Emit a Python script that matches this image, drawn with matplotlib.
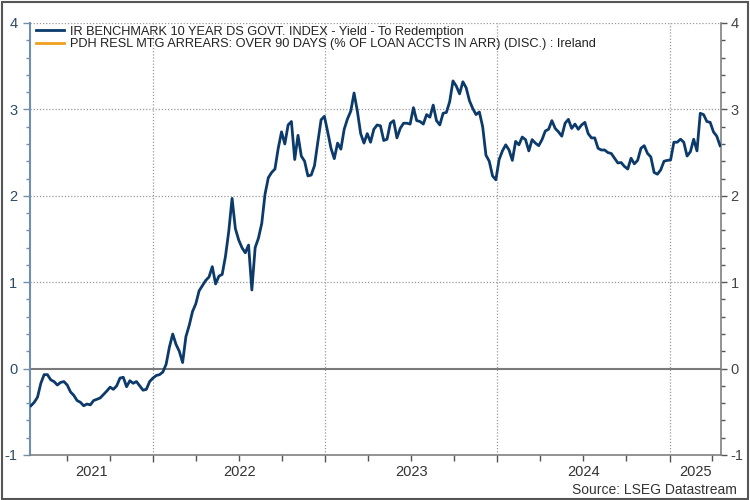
import matplotlib
matplotlib.use("Agg")
import matplotlib.pyplot as plt
import matplotlib.dates as mdates
from matplotlib.ticker import MultipleLocator, NullFormatter
from matplotlib.patches import Rectangle
import pandas as pd

plt.rcParams['font.family'] = ['Liberation Sans', 'DejaVu Sans']
plt.rcParams['axes.unicode_minus'] = False

# ---- data ----
start_date = "2021-04-16"
yield_values = [
    -0.43, -0.39, -0.33, -0.17, -0.07, -0.07, -0.13, -0.15, -0.19, -0.16,
    -0.15, -0.19, -0.27, -0.31, -0.37, -0.39, -0.43, -0.41, -0.42, -0.37,
    -0.355, -0.34, -0.30, -0.26, -0.215, -0.24, -0.20, -0.11, -0.10, -0.21,
    -0.14, -0.17, -0.15, -0.20, -0.25, -0.24, -0.15, -0.11, -0.08, -0.07,
    -0.04, 0.05, 0.25, 0.40, 0.28, 0.20, 0.07, 0.37, 0.50, 0.66,
    0.75, 0.90, 0.96, 1.02, 1.06, 1.18, 0.98, 1.07, 1.09, 1.30,
    1.59, 1.97, 1.62, 1.49, 1.40, 1.34, 1.43, 0.91, 1.40, 1.51,
    1.68, 2.02, 2.21, 2.27, 2.31, 2.55, 2.74, 2.60, 2.82, 2.86,
    2.42, 2.70, 2.46, 2.40, 2.23, 2.24, 2.35, 2.62, 2.88, 2.92,
    2.74, 2.55, 2.43, 2.61, 2.54, 2.77, 2.89, 2.98, 3.19, 2.98,
    2.72, 2.61, 2.72, 2.62, 2.77, 2.82, 2.81, 2.64, 2.655, 2.84,
    2.87, 2.67, 2.78, 2.84, 2.84, 2.83, 3.02, 2.87, 2.86, 2.83,
    2.94, 2.91, 3.05, 2.87, 2.82, 2.955, 2.965, 3.09, 3.33, 3.27,
    3.18, 3.32, 3.25, 3.10, 3.01, 2.94, 2.97, 2.80, 2.47, 2.40,
    2.23, 2.185, 2.42, 2.52, 2.59, 2.53, 2.41, 2.63, 2.59, 2.68,
    2.65, 2.52, 2.65, 2.61, 2.58, 2.65, 2.75, 2.77, 2.87, 2.78,
    2.74, 2.69, 2.84, 2.885, 2.78, 2.83, 2.77, 2.82, 2.85, 2.72,
    2.67, 2.67, 2.55, 2.53, 2.53, 2.50, 2.49, 2.435, 2.38, 2.385,
    2.34, 2.31, 2.435, 2.37, 2.41, 2.55, 2.58, 2.49, 2.45, 2.27,
    2.25, 2.30, 2.40, 2.41, 2.415, 2.62, 2.62, 2.655, 2.62, 2.46,
    2.51, 2.655, 2.52, 2.955, 2.94, 2.86, 2.85, 2.74, 2.69, 2.58,
]
arrears_values = []  # second series: no data shown

series1_label = "IR BENCHMARK 10 YEAR DS GOVT. INDEX - Yield - To Redemption"
series2_label = "PDH RESL MTG ARREARS: OVER 90 DAYS (% OF LOAN ACCTS IN ARR) (DISC.) : Ireland"
year_labels = ["2021", "2022", "2023", "2024", "2025"]
y_ticks = [-1, 0, 1, 2, 3, 4]
source_text = "Source: LSEG Datastream"

dates = pd.date_range(start_date, periods=len(yield_values), freq="7D")
x_min = pd.Timestamp("2021-04-14")
x_max = pd.Timestamp("2025-04-20")

# ---- figure ----
fig = plt.figure(figsize=(7.5, 5), dpi=100)
ax = fig.add_axes([30/750, 1-455/500, (721-30)/750, (455-23)/500])

navy = "#0B3A6B"
orange = "#F0A020"
axblue = "#6F8FB0"
gridc = "#9A9A9A"

ax.plot(dates, yield_values, color=navy, lw=2.0, label=series1_label, zorder=3)
ax.plot([], [], color=orange, lw=2.0, label=series2_label)

ax.set_xlim(x_min, x_max)
ax.set_ylim(-1, 4)

# y axis left
ax.set_yticks(y_ticks)
ax.yaxis.set_minor_locator(MultipleLocator(0.2))
ax.tick_params(axis='y', which='major', length=5, width=1, color=axblue,
               labelsize=10.5, labelcolor="#2E4A66", pad=4)
ax.tick_params(axis='y', which='minor', length=3, width=1, color=axblue)

# right axis (gray)
sec = ax.secondary_yaxis('right')
sec.set_yticks(y_ticks)
sec.yaxis.set_minor_locator(MultipleLocator(0.2))
sec.tick_params(axis='y', which='major', length=4, width=1, color="#555555",
                labelsize=10.5, labelcolor="#444444", pad=3)
sec.tick_params(axis='y', which='minor', length=3, width=1, color="#555555")
sec.spines['right'].set_color("#808080")
sec.spines['right'].set_linewidth(1.2)

# x axis
ax.xaxis.set_major_locator(mdates.YearLocator())
ax.xaxis.set_minor_locator(mdates.MonthLocator(bymonth=[4, 7, 10]))
ax.xaxis.set_major_formatter(NullFormatter())
ax.tick_params(axis='x', which='major', length=5, width=1, color="#555555")
ax.tick_params(axis='x', which='minor', length=4, width=1, color="#555555")

# year labels centred within visible part of each year
for yl in year_labels:
    y0 = max(pd.Timestamp(f"{yl}-01-01"), x_min)
    y1 = min(pd.Timestamp(f"{int(yl)+1}-01-01"), x_max)
    mid = y0 + (y1 - y0) / 2
    ax.text(mdates.date2num(mid), -0.022, yl, transform=ax.get_xaxis_transform(),
            ha='center', va='top', fontsize=10.5, color="#333333")

# spines
ax.spines['top'].set_visible(False)
ax.spines['right'].set_visible(False)
ax.spines['left'].set_color(axblue)
ax.spines['left'].set_linewidth(1.5)
ax.spines['bottom'].set_color("#808080")
ax.spines['bottom'].set_linewidth(1.2)

# grid
for v in [1, 2, 3, 4]:
    ax.axhline(v, color=gridc, lw=0.9, ls=(0, (1, 1.5)), zorder=1)
ax.axhline(0, color="#7A7A7A", lw=1.5, zorder=1)
for yl in year_labels[1:]:
    ax.axvline(pd.Timestamp(f"{yl}-01-01"), color=gridc, lw=0.9, ls=(0, (1, 1.5)), zorder=1)

# legend
leg = ax.legend(loc='upper left', bbox_to_anchor=(0.005, 1.0), frameon=False,
                fontsize=9.2, handlelength=2.2, handletextpad=0.45,
                labelspacing=0.05, borderaxespad=0.1, borderpad=0.1)
for t in leg.get_texts():
    t.set_color("#222222")

fig.text(737/750, 1-490/500, source_text, ha='right', va='center',
         fontsize=10, color="#333333")

# figure border
fig.add_artist(Rectangle((0.002, 0.003), 0.995, 0.994, transform=fig.transFigure,
                         fill=False, edgecolor="#555555", lw=1.5))

fig.savefig("out.png", dpi=100)
